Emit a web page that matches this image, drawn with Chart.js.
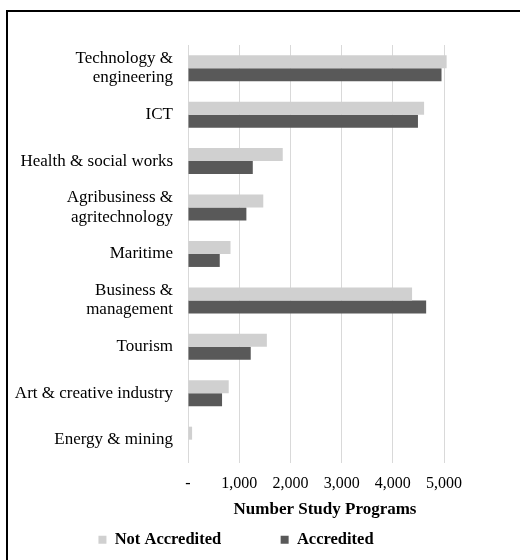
<!DOCTYPE html>
<html>
<head>
<meta charset="utf-8">
<script src="https://cdn.jsdelivr.net/npm/chart.js@4"></script>
<style>
  body { margin: 0; background: #fff; }
  #wrap { position: relative; width: 520px; height: 560px; }
  #frame { position: absolute; left: 6px; top: 10px; right: 0; bottom: 0; border-top: 2px solid #000; border-left: 2px solid #000; }
  canvas { position: absolute; left: 0; top: 0; }
</style>
</head>
<body>
<div id="wrap">
  <div id="frame"></div>
  <canvas id="myChart" width="520" height="560"></canvas>
</div>
<script>
const categories = [
  ['Technology &', 'engineering'],
  'ICT',
  'Health & social works',
  ['Agribusiness &', 'agritechnology'],
  'Maritime',
  ['Business &', 'management'],
  'Tourism',
  'Art & creative industry',
  'Energy & mining'
];
const notAccredited = [5050, 4610, 1850, 1470, 830, 4375, 1540, 795, 80];
const accredited = [4950, 4490, 1265, 1140, 620, 4650, 1225, 665, 0];
const xTicks = [0, 1000, 2000, 3000, 4000, 5000];

const serif = '"Liberation Serif", "Times New Roman", serif';
Chart.defaults.font.family = serif;
Chart.defaults.font.size = 16;
Chart.defaults.color = '#000';

const ctx = document.getElementById('myChart');

new Chart(ctx, {
  type: 'bar',
  data: {
    labels: categories,
    datasets: [
      {
        label: 'Not Accredited',
        data: notAccredited,
        backgroundColor: '#d0d0d0',
        clip: false
      },
      {
        label: 'Accredited',
        data: accredited,
        backgroundColor: '#595959',
        clip: false
      }
    ]
  },
  options: {
    indexAxis: 'y',
    responsive: false,
    animation: false,
    categoryPercentage: 0.56,
    barPercentage: 1,
    layout: { padding: { left: 10, right: 58, top: 45, bottom: 2 } },
    scales: {
      x: {
        min: 0,
        max: 5350, // plot area runs a bit past the last gridline
        afterBuildTicks: (s) => { s.ticks = xTicks.map(v => ({ value: v })) },
        grid: { color: '#d9d9d9', lineWidth: 1, drawTicks: false },
        border: { display: false },
        ticks: {
          padding: 11,
          callback: (v) => v === 0 ? '-' : v.toLocaleString('en-US')
        },
        title: {
          display: true,
          text: 'Number Study Programs',
          font: { weight: 'bold', size: 17 },
          padding: { top: -5, bottom: 2 }
        }
      },
      y: {
        grid: { display: false, drawTicks: false },
        border: { display: false },
        ticks: { padding: 15, autoSkip: false, font: { size: 17, lineHeight: 1.12 } },
        afterFit: (s) => { s.width = 178 }
      }
    },
    plugins: {
      legend: {
        position: 'bottom',
        labels: {
          boxWidth: 8,
          boxHeight: 8,
          padding: 10,
          font: { weight: 'bold', size: 16.5 },
          // widen the gap between the two legend entries
          generateLabels: (chart) => {
            const items = Chart.defaults.plugins.legend.labels.generateLabels(chart);
            items[0].text += '\u00a0'.repeat(12);
            return items;
          }
        }
      },
      tooltip: { enabled: false }
    }
  }
});
</script>
</body>
</html>
